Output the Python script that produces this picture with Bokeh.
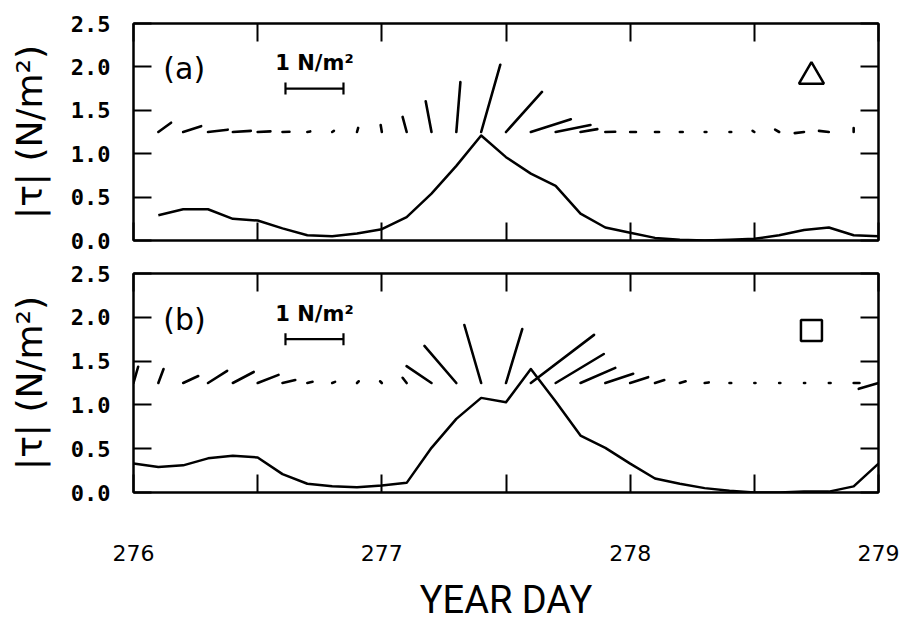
import numpy as np
from bokeh.plotting import figure
from bokeh.models import (Range1d, LinearAxis, FixedTicker, CustomJSTickFormatter,
                          PrintfTickFormatter)
from bokeh.layouts import column
from bokeh.embed import file_html
from bokeh.resources import INLINE
from bokeh.core.properties import value

# ---------------- data ----------------
y_ticks = [0.0, 0.5, 1.0, 1.5, 2.0, 2.5]
x_ticks = [276, 277, 278, 279]
x_minor_ticks = [276.5, 277.5, 278.5]

# panel (a): stress magnitude |tau| (N/m^2)
days_a = [276.1, 276.2, 276.3, 276.4, 276.5, 276.6, 276.7, 276.8, 276.9, 277.0,
          277.1, 277.2, 277.3, 277.4, 277.5, 277.6, 277.7, 277.8, 277.9, 278.0,
          278.1, 278.2, 278.3, 278.4, 278.5, 278.6, 278.7, 278.8, 278.9, 279.0]
tau_a = [0.29, 0.36, 0.36, 0.25, 0.23, 0.14, 0.06, 0.05, 0.08, 0.13,
         0.27, 0.54, 0.86, 1.21, 0.96, 0.77, 0.63, 0.31, 0.15, 0.09,
         0.03, 0.01, 0.00, 0.01, 0.02, 0.06, 0.12, 0.15, 0.06, 0.05]
# panel (a): stress vectors (east, north components, N/m^2)
stick_days_a = [276.1, 276.2, 276.3, 276.4, 276.5, 276.6, 276.7, 276.8, 276.9, 277.0,
                277.1, 277.2, 277.3, 277.4, 277.5, 277.6, 277.7, 277.8, 277.9, 278.0,
                278.1, 278.2, 278.3, 278.4, 278.5, 278.6, 278.7, 278.8, 278.9]
u_a = [0.22, 0.31, 0.34, 0.31, 0.22, 0.12, 0.05, 0.03, 0.02, -0.02,
       -0.07, -0.10, 0.07, 0.33, 0.62, 0.69, 0.60, 0.29, 0.17, 0.10,
       0.07, 0.05, 0.03, 0.03, -0.03, -0.07, -0.16, -0.17, 0.00]
v_a = [0.16, 0.10, 0.04, 0.02, 0.01, 0.005, 0.01, 0.02, 0.07, 0.12,
       0.26, 0.53, 0.86, 1.16, 0.69, 0.22, 0.12, 0.05, 0.005, 0.0,
       0.0, 0.0, 0.0, 0.0, 0.02, 0.04, -0.02, 0.02, 0.07]

# panel (b)
days_b = [276.0, 276.1, 276.2, 276.3, 276.4, 276.5, 276.6, 276.7, 276.8, 276.9, 277.0,
          277.1, 277.2, 277.3, 277.4, 277.5, 277.6, 277.7, 277.8, 277.9, 278.0,
          278.1, 278.2, 278.3, 278.4, 278.5, 278.6, 278.7, 278.8, 278.9, 279.0]
tau_b = [0.33, 0.29, 0.31, 0.39, 0.42, 0.40, 0.21, 0.10, 0.07, 0.06, 0.08,
         0.11, 0.51, 0.84, 1.08, 1.03, 1.41, 1.04, 0.65, 0.51, 0.33,
         0.16, 0.10, 0.05, 0.02, 0.00, 0.00, 0.01, 0.01, 0.07, 0.33]
stick_days_b = days_b
u_b = [0.08, 0.09, 0.26, 0.33, 0.36, 0.36, 0.22, 0.09, 0.05, 0.03, -0.03,
       -0.07, -0.43, -0.55, -0.29, 0.28, 1.09, 0.83, 0.60, 0.48, 0.31,
       0.16, 0.10, 0.07, 0.03, 0.02, 0.02, 0.02, 0.03, 0.10, -0.34]
v_b = [0.28, 0.24, 0.12, 0.21, 0.19, 0.14, 0.05, 0.02, 0.02, 0.03, 0.03,
       0.09, 0.29, 0.64, 1.00, 0.93, 0.83, 0.50, 0.26, 0.16, 0.10,
       0.05, 0.03, 0.01, 0.0, 0.0, 0.0, 0.0, 0.0, 0.0, -0.10]

# ---------------- layout constants ----------------
W = 905
BL, BR = 133, 27
FRAME_W = W - BL - BR
X0, X1 = 276, 279
UNIT_PX = 58.0        # pixels representing 1 N/m^2 in the stick plot
STICK_BASE = 1.25
BAR_Y = 1.75
BAR_X0 = 276.612
INK = "black"


def style_axis(ax, labels):
    ax.axis_line_width = 2
    ax.axis_line_color = INK
    ax.major_tick_in = 18
    ax.major_tick_out = 0
    ax.major_tick_line_width = 2
    ax.major_tick_line_color = INK
    ax.minor_tick_in = 18
    ax.minor_tick_out = 0
    ax.minor_tick_line_width = 2
    ax.minor_tick_line_color = INK
    ax.major_label_text_color = INK
    ax.axis_label_text_color = INK
    if not labels:
        ax.formatter = CustomJSTickFormatter(code="return ''")
        ax.major_label_text_font_size = "0px"
        ax.major_label_standoff = 0


def panel(height, top_b, frame_h, days, tau, sdays, u, v, tag, marker, mk_y, show_x):
    bb = height - top_b - frame_h
    p = figure(width=W, height=height, x_range=Range1d(X0, X1), y_range=Range1d(0, 2.5),
               output_backend="svg", toolbar_location=None,
               x_axis_location=None, y_axis_location=None,
               min_border_left=BL, min_border_right=BR, min_border_top=top_b,
               min_border_bottom=bb)
    p.grid.visible = False
    p.outline_line_color = INK
    p.outline_line_width = 2
    p.background_fill_color = "white"
    p.border_fill_color = "white"

    xt = FixedTicker(ticks=x_ticks, minor_ticks=x_minor_ticks)
    yt = FixedTicker(ticks=y_ticks)

    left = LinearAxis(ticker=yt, formatter=PrintfTickFormatter(format="%.1f"))
    style_axis(left, True)
    left.major_label_text_font = "DejaVu Sans Mono"
    left.major_label_text_font_style = "bold"
    left.major_label_text_font_size = "22px"
    left.major_label_standoff = 23
    left.axis_label = "|τ| (N/m²)"
    left.axis_label_text_font = "DejaVu Sans"
    left.axis_label_text_font_style = "normal"
    left.axis_label_text_font_size = "36px"
    left.axis_label_standoff = 18
    p.add_layout(left, "left")

    right = LinearAxis(ticker=yt)
    style_axis(right, False)
    p.add_layout(right, "right")

    top = LinearAxis(ticker=xt)
    style_axis(top, False)
    p.add_layout(top, "above")

    bottom = LinearAxis(ticker=xt)
    if show_x:
        style_axis(bottom, True)
        bottom.formatter = PrintfTickFormatter(format="%d")
        bottom.major_label_text_font = "DejaVu Sans"
        bottom.major_label_text_font_size = "22px"
        bottom.major_label_standoff = 52
        bottom.axis_label = "YEAR DAY"
        bottom.axis_label_text_font = "Roboto"
        bottom.axis_label_text_font_style = "normal"
        bottom.axis_label_text_font_size = "38px"
        bottom.axis_label_standoff = 14
    else:
        style_axis(bottom, False)
    p.add_layout(bottom, "below")

    sx = UNIT_PX * (X1 - X0) / FRAME_W
    sy = UNIT_PX * 2.5 / frame_h

    # magnitude curve
    p.line(days, tau, line_color=INK, line_width=2.5, line_join="round")

    # stress sticks
    sd = np.array(sdays)
    p.segment(x0=sd, y0=np.full(len(sd), STICK_BASE),
              x1=sd + np.array(u) * sx, y1=STICK_BASE + np.array(v) * sy,
              line_color=INK, line_width=2.6, line_cap="round")

    # scale bar: 1 N/m^2
    cap = 6 * 2.5 / frame_h
    p.segment(x0=[BAR_X0, BAR_X0, BAR_X0 + sx], y0=[BAR_Y, BAR_Y - cap, BAR_Y - cap],
              x1=[BAR_X0 + sx, BAR_X0, BAR_X0 + sx], y1=[BAR_Y, BAR_Y + cap, BAR_Y + cap],
              line_color=INK, line_width=2.2)
    p.text(x=[BAR_X0 + sx / 2], y=[2.04], text=["1 N/m²"], text_font=value("DejaVu Sans"),
           text_font_style="bold", text_font_size="21px", text_align="center",
           text_baseline="alphabetic", text_color=INK)

    p.text(x=[276.12], y=[1.98], text=[tag], text_font=value("DejaVu Sans"),
           text_font_size="30px", text_align="left", text_baseline="middle",
           text_color=INK)

    p.scatter(x=[278.73], y=[mk_y], marker=marker, size=(25 if marker == "triangle" else 21),
              fill_color=None, line_color=INK, line_width=2.5)
    return p


pa = panel(258, 23, 217, days_a, tau_a, stick_days_a, u_a, v_a, "(a)", "triangle", 1.89, False)
pb = panel(366, 15, 219, days_b, tau_b, stick_days_b, u_b, v_b, "(b)", "square", 1.85, True)

layout = column(pa, pb, spacing=0)
open("out.html", "w").write(file_html(layout, INLINE))
